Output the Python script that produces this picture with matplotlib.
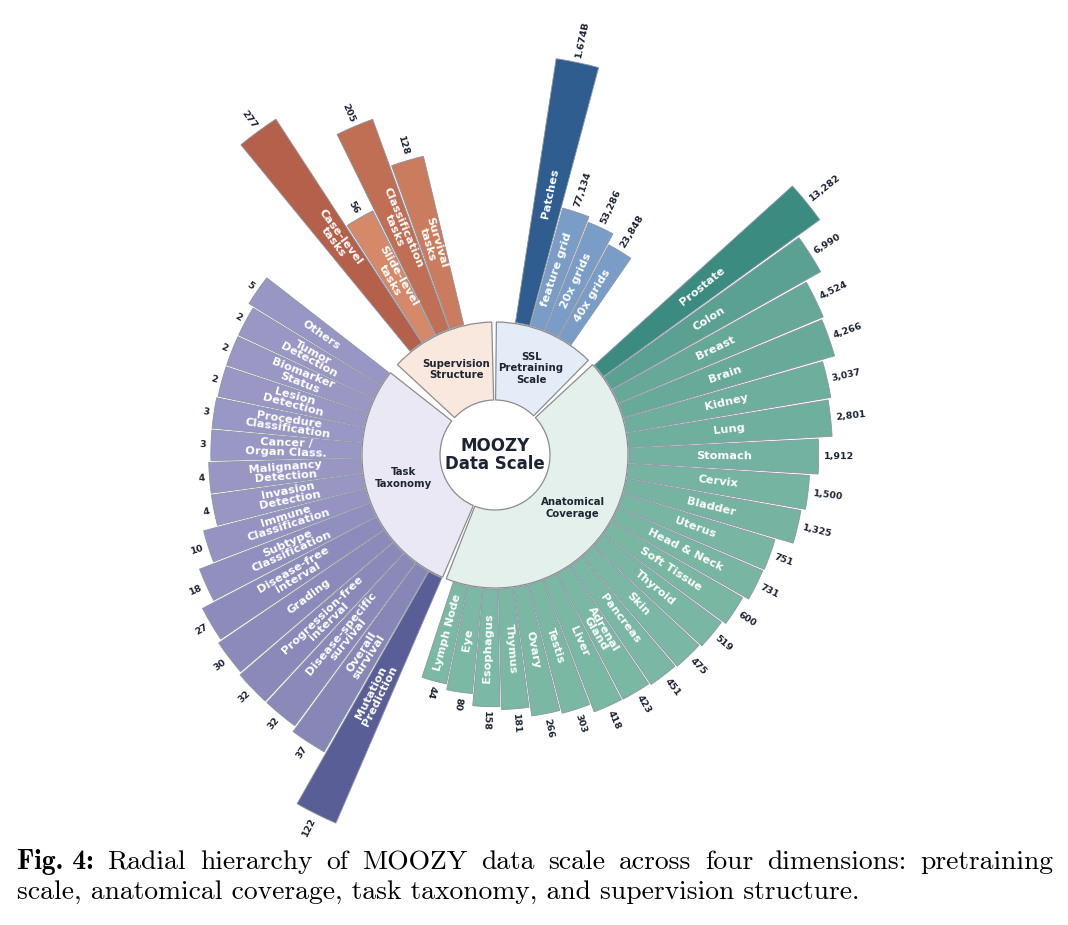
import numpy as np
import matplotlib
matplotlib.use('Agg')
import matplotlib.pyplot as plt
from matplotlib.colors import to_rgb

# ---- data ----
ssl_labels = ['Patches', 'feature grid', '20x grids', '40x grids']
ssl_values = [1674000000, 77134, 53286, 23848]

anat_labels = ['Prostate', 'Colon', 'Breast', 'Brain', 'Kidney', 'Lung', 'Stomach',
               'Cervix', 'Bladder', 'Uterus', 'Head & Neck', 'Soft Tissue', 'Thyroid',
               'Skin', 'Pancreas', 'Adrenal\nGland', 'Liver', 'Testis', 'Ovary',
               'Thymus', 'Esophagus', 'Eye', 'Lymph Node']
anat_values = [13282, 6990, 4524, 4266, 3037, 2801, 1912, 1500, 1325, 751, 731, 600,
               519, 475, 451, 423, 418, 303, 266, 181, 158, 80, 44]

task_labels = ['Mutation\nPrediction', 'Overall\nsurvival', 'Disease-specific\nsurvival',
               'Progression-free\ninterval', 'Grading', 'Disease-free\ninterval',
               'Subtype\nClassification', 'Immune\nClassification', 'Invasion\nDetection',
               'Malignancy\nDetection', 'Cancer /\nOrgan Class.', 'Procedure\nClassification',
               'Lesion\nDetection', 'Biomarker\nStatus', 'Tumor\nDetection', 'Others']
task_values = [122, 37, 32, 32, 30, 27, 18, 10, 4, 4, 3, 3, 2, 2, 2, 5]

sup_labels = ['Case-level\ntasks', 'Slide-level\ntasks', 'Classification\ntasks', 'Survival\ntasks']
sup_values = [277, 56, 205, 128]

sector_names = ['SSL\nPretraining\nScale', 'Anatomical\nCoverage', 'Task\nTaxonomy',
                'Supervision\nStructure']

caption1 = ['Radial', 'hierarchy', 'of', 'MOOZY', 'data', 'scale', 'across', 'four',
            'dimensions:', 'pretraining']
caption2 = 'scale, anatomical coverage, task taxonomy, and supervision structure.'

# ---- layout (screen pixels == radial units) ----
BAR_W = 6.55      # degrees per bar
R_HOLE = 55
R_RING = 133
R_BAR = 134
L_MAX = 267
TXT = '#1c2233'

fig = plt.figure(figsize=(10.68, 9.25), dpi=100)
ax = fig.add_axes([45 / 1068, 20 / 925, 900 / 1068, 900 / 925], projection='polar')
ax.set_theta_zero_location('N')
ax.set_theta_direction(-1)
ax.set_ylim(0, 450)
ax.axis('off')


def fmt(v):
    if v >= 1e9:
        return '%.3fB' % (v / 1e9)
    return '{:,}'.format(int(v))


def draw_group(labels, values, start, lmin, power, dark, light):
    v = np.array(values, dtype=float)
    lv = np.log10(v)
    frac = (lv - lv.min()) / (lv.max() - lv.min())
    length = lmin + (L_MAX - lmin) * frac ** power
    t = v / v.max()
    cols = [tuple(np.array(to_rgb(light)) * (1 - ti) + np.array(to_rgb(dark)) * ti) for ti in t]
    phi = start + BAR_W * (np.arange(len(v)) + 0.5)
    th = np.deg2rad(phi)
    ax.bar(th, length, width=np.deg2rad(BAR_W - 0.35), bottom=R_BAR, color=cols,
           edgecolor='#8a95a3', linewidth=0.6, zorder=2)
    for i in range(len(v)):
        raw = (90 - phi[i]) % 360
        # bar names flip on the left half, value labels only up to ~250 deg
        rot = raw - 180 if 90 < raw < 270 else raw
        vflip = 90 < raw < 250
        vrot = raw - 180 if vflip else raw
        ax.text(th[i], R_BAR + length[i] / 2, labels[i], rotation=rot, rotation_mode='anchor',
                ha='center', va='center', color='white', fontsize=8.2, fontweight='bold',
                linespacing=0.9, zorder=4)
        ax.text(th[i], R_BAR + length[i] + 5, fmt(values[i]), rotation=vrot,
                rotation_mode='anchor', ha='right' if vflip else 'left', va='center',
                color=TXT, fontsize=6.8, fontweight='bold', zorder=4)


# inner ring sectors
sec_spans = [(0.6, 44.6), (47.2, 201.5), (203.2, 308.2), (312.8, 358.6)]
sec_fill = ['#e3ecf7', '#e4f0ec', '#ebe8f5', '#f8e8de']
for (a, b), fill, name in zip(sec_spans, sec_fill, sector_names):
    mid = np.deg2rad((a + b) / 2)
    ax.bar(mid, R_RING - R_HOLE, width=np.deg2rad(b - a), bottom=R_HOLE, color=fill,
           edgecolor='#8c8c8c', linewidth=0.9, zorder=1)
    ax.text(mid, 94, name, ha='center', va='center', fontsize=7.3, fontweight='bold',
            color='#1f2633', zorder=4)

draw_group(ssl_labels, ssl_values, 8.6, 105, 1.0, '#2f5d8f', '#7a9dc7')
draw_group(anat_labels, anat_values, 47.7, 100, 1.5, '#3b8b80', '#7cb9a5')
draw_group(task_labels, task_values, 203.2, 149, 2.0, '#5a5e96', '#9b98c6')
draw_group(sup_labels, sup_values, 320.5, 139, 2.0, '#b5604a', '#de9470')

ax.text(0, 0, 'MOOZY\nData Scale', ha='center', va='center', fontsize=12,
        fontweight='bold', color=TXT, linespacing=0.95, zorder=5)

# caption, justified like the LaTeX source
fig.canvas.draw()
rend = fig.canvas.get_renderer()
x0, x1 = 17, 1053
y1, y2 = 1 - 869 / 925, 1 - 899 / 925

t2 = fig.text(x0 / 1068, y2, caption2, family='cmr10', fontsize=14, va='baseline')
w = t2.get_window_extent(rend).width
fs = 14 * 841 / w
t2.set_fontsize(fs)

toks = [('Fig. 4:', 'cmb10')] + [(wd, 'cmr10') for wd in caption1]
objs = []
for s, fam in toks:
    objs.append(fig.text(0, y1, s, family=fam, fontsize=fs, va='baseline'))
widths = [o.get_window_extent(rend).width for o in objs]
gap = (x1 - x0 - sum(widths)) / (len(objs) - 1)
x = x0
for o, wd in zip(objs, widths):
    o.set_x(x / 1068)
    x += wd + gap

fig.savefig('out.png', dpi=100)
